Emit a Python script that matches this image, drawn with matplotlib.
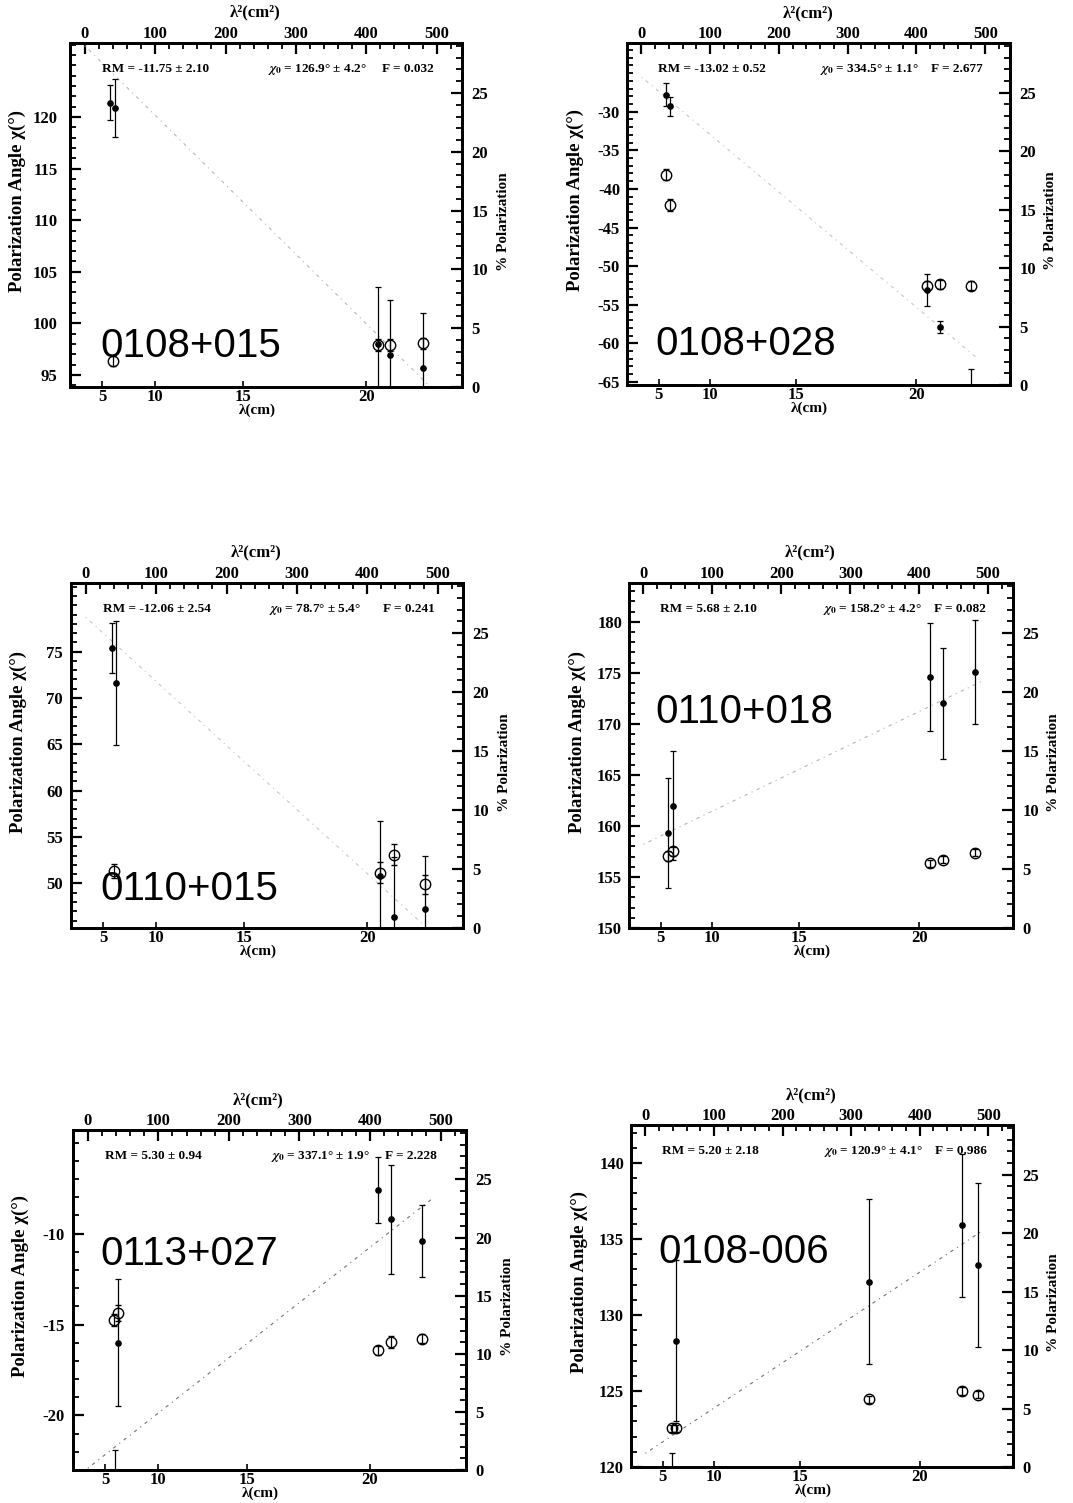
import numpy as np
import matplotlib
matplotlib.use("Agg")
import matplotlib.pyplot as plt
from matplotlib.ticker import FixedLocator, MultipleLocator

plt.rcParams["font.family"] = ["Liberation Serif", "DejaVu Serif"]
plt.rcParams["font.weight"] = "bold"
plt.rcParams["mathtext.fontset"] = "stix"
plt.rcParams["axes.unicode_minus"] = False

# ---- source fits -------------------------------------------------------
sources = ["0108+015", "0108+028", "0110+015", "0110+018", "0113+027", "0108-006"]
rm = [-11.75, -13.02, -12.06, 5.68, 5.30, 5.20]
rm_err = [2.10, 0.52, 2.54, 2.10, 0.94, 2.18]
chi0 = [126.9, 334.5, 78.7, 158.2, 337.1, 120.9]
chi0_err = [4.2, 1.1, 5.4, 4.2, 1.9, 4.1]
f_stat = [0.032, 2.677, 0.241, 0.082, 2.228, 0.986]

# ---- polarization angle measurements (lambda^2 in cm^2, angle in deg) --
ang_l2_1 = [36, 43, 416, 434, 480]
ang_1 = [121.4, 120.9, 98.0, 96.9, 95.7]
ang_e_1 = [1.7, 2.8, 5.5, 5.4, 5.3]

ang_l2_2 = [35, 42, 415, 434, 480]
ang_2 = [-27.8, -29.3, -53.1, -57.9, -66.8]
ang_e_2 = [1.5, 1.2, 2.1, 0.8, 3.5]

ang_l2_3 = [37, 43, 418, 438, 482]
ang_3 = [75.4, 71.6, 50.8, 46.4, 47.3]
ang_e_3 = [2.7, 6.7, 5.9, 6.5, 5.7]

ang_l2_4 = [36, 43, 416, 434, 481]
ang_4 = [159.3, 162.0, 174.6, 172.0, 175.1]
ang_e_4 = [5.4, 5.3, 5.3, 5.4, 5.1]

ang_l2_5 = [38, 43, 411, 430, 474]
ang_5 = [-24.3, -16.0, -7.6, -9.2, -10.4]
ang_e_5 = [2.4, 3.5, 1.8, 3.0, 2.0]

ang_l2_6 = [39, 45, 326, 461, 485]
ang_6 = [118.3, 128.3, 132.2, 135.9, 133.3]
ang_e_6 = [2.6, 5.3, 5.45, 4.7, 5.4]

# ---- fractional polarization (%) ----------------------------------------
pol_l2_1 = [40, 416, 434, 480]
pol_1 = [2.2, 3.6, 3.6, 3.7]
pol_e_1 = [0.4, 0.5, 0.5, 0.5]

pol_l2_2 = [35, 42, 415, 434, 480]
pol_2 = [18.0, 15.4, 8.5, 8.6, 8.5]
pol_e_2 = [0.5, 0.5, 0.4, 0.4, 0.4]

pol_l2_3 = [40, 418, 438, 482]
pol_3 = [4.8, 4.7, 6.2, 3.7]
pol_e_3 = [0.6, 0.9, 0.9, 0.8]

pol_l2_4 = [36, 43, 416, 434, 481]
pol_4 = [6.1, 6.5, 5.5, 5.8, 6.4]
pol_e_4 = [0.4, 0.4, 0.3, 0.3, 0.3]

pol_l2_5 = [37, 43, 411, 430, 474]
pol_5 = [12.9, 13.5, 10.3, 11.0, 11.3]
pol_e_5 = [0.5, 0.7, 0.4, 0.5, 0.4]

pol_l2_6 = [39, 45, 326, 461, 485]
pol_6 = [3.3, 3.3, 5.8, 6.5, 6.2]
pol_e_6 = [0.3, 0.3, 0.3, 0.3, 0.3]

# ---- axis scales ---------------------------------------------------------
lam_ticks = [5, 10, 15, 20]
lam2_ticks = [0, 100, 200, 300, 400, 500]
pol_ticks = [0, 5, 10, 15, 20, 25]
angle_ticks = [
    [95, 100, 105, 110, 115, 120],
    [-65, -60, -55, -50, -45, -40, -35, -30],
    [45, 50, 55, 60, 65, 70, 75],
    [150, 155, 160, 165, 170, 175, 180],
    [-20, -15, -10],
    [120, 125, 130, 135, 140],
]
angle_lims = [(93.84, 127.17), (-65.4, -21.1), (45.2, 82.4),
              (150.0, 183.8), (-23.0, -4.3), (120.0, 142.5)]
pol_lim = (0, 29.25)
lam2_lim = (-21, 536)

ang_l2 = [ang_l2_1, ang_l2_2, ang_l2_3, ang_l2_4, ang_l2_5, ang_l2_6]
ang = [ang_1, ang_2, ang_3, ang_4, ang_5, ang_6]
ang_e = [ang_e_1, ang_e_2, ang_e_3, ang_e_4, ang_e_5, ang_e_6]
pol_l2 = [pol_l2_1, pol_l2_2, pol_l2_3, pol_l2_4, pol_l2_5, pol_l2_6]
pol = [pol_1, pol_2, pol_3, pol_4, pol_5, pol_6]
pol_e = [pol_e_1, pol_e_2, pol_e_3, pol_e_4, pol_e_5, pol_e_6]

# ---- layout (pixel boxes: left, right, top, bottom) ----------------------
W, H = 1073, 1503
boxes = [(70, 462, 43, 387), (627, 1010, 43, 385),
         (71, 463, 583, 928), (629, 1013, 583, 928),
         (73, 466, 1130, 1470), (631, 1013, 1125, 1467)]
name_pos = [(0.077, 0.087), (0.073, 0.088), (0.074, 0.081),
            (0.068, 0.595), (0.069, 0.603), (0.071, 0.596)]
left_pad = [9, 5, 6, 5, 6, 5]
fit_color = ["0.72", "0.78", "0.78", "0.7", "0.45", "0.45"]

fig = plt.figure(figsize=(W / 100, H / 100), dpi=100)

for i in range(6):
    l, r, t, b = boxes[i]
    ax = fig.add_axes([l / W, 1 - b / H, (r - l) / W, (b - t) / H])
    ax.set_xlim(*lam2_lim)
    ax.set_ylim(*angle_lims[i])

    # bottom axis: wavelength labels placed at lambda^2
    ax.set_xticks([v ** 2 for v in lam_ticks])
    ax.set_xticklabels([str(v) for v in lam_ticks])
    ax.tick_params(axis="x", which="major", direction="in", length=4,
                   width=1.2, pad=1.5, labelsize=12, top=False)
    ax.xaxis.set_minor_locator(FixedLocator([]))

    # left axis: polarization angle
    ax.yaxis.set_major_locator(FixedLocator(angle_ticks[i]))
    ax.yaxis.set_minor_locator(MultipleLocator(1))
    ax.tick_params(axis="y", which="major", direction="in", length=8,
                   width=1.6, pad=left_pad[i], labelsize=12, right=False)
    ax.tick_params(axis="y", which="minor", direction="in", length=4,
                   width=1.3, right=False)

    # top axis: lambda^2
    top = ax.secondary_xaxis("top")
    top.set_xticks(lam2_ticks)
    top.xaxis.set_minor_locator(MultipleLocator(20))
    top.tick_params(which="major", direction="in", length=8, width=1.6,
                    pad=1, labelsize=12)
    top.tick_params(which="minor", direction="in", length=4, width=1.3)
    top.spines["top"].set_linewidth(2)

    # right axis: percent polarization
    axr = ax.twinx()
    axr.set_ylim(*pol_lim)
    axr.yaxis.set_major_locator(FixedLocator(pol_ticks))
    axr.yaxis.set_minor_locator(MultipleLocator(1))
    axr.tick_params(axis="y", which="major", direction="in", length=8,
                    width=1.6, pad=7, labelsize=12)
    axr.tick_params(axis="y", which="minor", direction="in", length=4,
                    width=1.3)

    for a in (ax, axr):
        for s in a.spines.values():
            s.set_linewidth(2)

    # Faraday rotation fit: chi = chi0 + RM * lambda^2
    lo, hi = angle_lims[i]
    mid = 0.5 * (lo + hi)
    c0 = chi0[i] + 180 * round((mid - chi0[i]) / 180)
    l2 = np.linspace(0, 490, 300)
    ax.plot(l2, c0 + rm[i] * l2 * 1e-4 * 180 / np.pi,
            linestyle=(0, (1, 4, 3, 4)), color=fit_color[i], lw=0.8)

    ax.errorbar(ang_l2[i], ang[i], yerr=ang_e[i], fmt="o", ms=3.8, color="k",
                ecolor="k", elinewidth=0.9, capsize=2.5, capthick=0.9)
    axr.errorbar(pol_l2[i], pol[i], yerr=pol_e[i], fmt="o", ms=7.5, mfc="none",
                 mec="k", mew=1.0, ecolor="k", elinewidth=0.9, capsize=2,
                 capthick=0.9)

    # fit summary
    ax.text(0.082, 0.916, f"RM = {rm[i]:.2f} ± {rm_err[i]:.2f}",
            transform=ax.transAxes, fontsize=9.5, va="baseline")
    ax.text(0.505, 0.916, f"$\\chi_0$ = {chi0[i]:.1f}° ± {chi0_err[i]:.1f}°",
            transform=ax.transAxes, fontsize=9.5, va="baseline")
    ax.text(0.795, 0.916, f"F = {f_stat[i]:.3f}",
            transform=ax.transAxes, fontsize=9.5, va="baseline")

    # source name
    nx, ny = name_pos[i]
    ax.text(nx, ny, sources[i], transform=ax.transAxes,
            family=["Liberation Sans", "DejaVu Sans"], weight="normal",
            fontsize=29, va="baseline", ha="left")

    # axis titles
    ax.text(-0.135, 0.54, "Polarization Angle χ(°)", transform=ax.transAxes,
            rotation=90, ha="center", va="center", fontsize=13.5)
    ax.text(1.105, 0.48, "% Polarization", transform=ax.transAxes,
            rotation=90, ha="center", va="center", fontsize=11)
    ax.text(0.472, 1.088, "λ²(cm²)", transform=ax.transAxes,
            ha="center", va="center", fontsize=12)
    ax.text(0.477, -17.0 / (b - t), "λ(cm)", transform=ax.transAxes,
            ha="center", va="top", fontsize=11)

fig.savefig("out.png", dpi=100)
